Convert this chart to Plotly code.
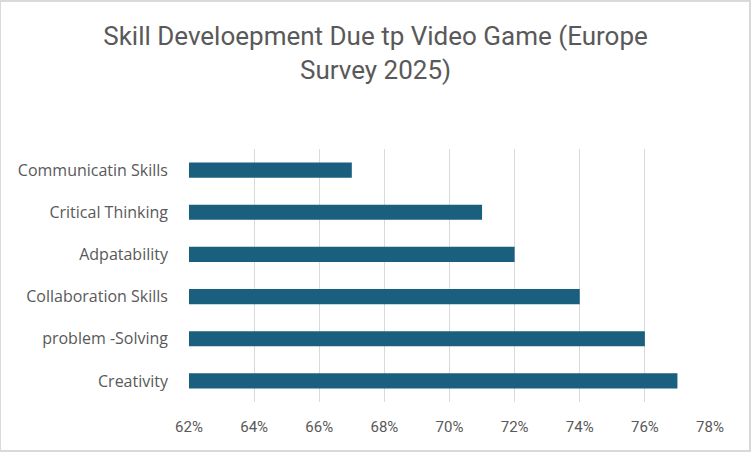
import plotly.graph_objects as go

categories = ["Communicatin Skills", "Critical Thinking", "Adpatability",
              "Collaboration Skills", "problem -Solving", "Creativity"]
values = [0.67, 0.71, 0.72, 0.74, 0.76, 0.77]
tick_vals = [0.62, 0.64, 0.66, 0.68, 0.70, 0.72, 0.74, 0.76, 0.78]
tick_text = ["62%", "64%", "66%", "68%", "70%", "72%", "74%", "76%", "78%"]
title_text = "Skill Develoepment Due tp Video Game (Europe<br>Survey 2025)"

fig = go.Figure(go.Bar(
    y=categories, x=values, orientation="h",
    marker=dict(color="#1B5F7E", line=dict(width=0)),
    width=0.36,
))

fig.update_layout(
    width=751, height=452,
    margin=dict(l=189, r=41, t=149, b=50),
    paper_bgcolor="white", plot_bgcolor="white",
    title=dict(text=title_text, x=0.5, xanchor="center", y=0.9, yanchor="top",
               font=dict(family="Roboto", size=26, color="#595959")),
    xaxis=dict(range=[0.62, 0.78], tickvals=tick_vals, ticktext=tick_text,
               showgrid=True, gridcolor="#D9D9D9", gridwidth=1.3, zeroline=False,
               showline=False, ticks="", ticklen=0, ticklabelstandoff=14,
               tickfont=dict(family="Roboto", size=15, color="#595959")),
    yaxis=dict(autorange="reversed", showgrid=False, zeroline=False, showline=False,
               ticks="", ticklabelstandoff=20,
               tickfont=dict(family="Open Sans", size=16, color="#595959")),
    showlegend=False,
    shapes=[dict(type="rect", xref="paper", yref="paper",
                 x0=-189/521, x1=1 + 40/521, y0=-49/253, y1=1 + 148/253,
                 line=dict(color="#D9D9D9", width=2), fillcolor="rgba(0,0,0,0)")],
)

fig.write_html("out.html")
